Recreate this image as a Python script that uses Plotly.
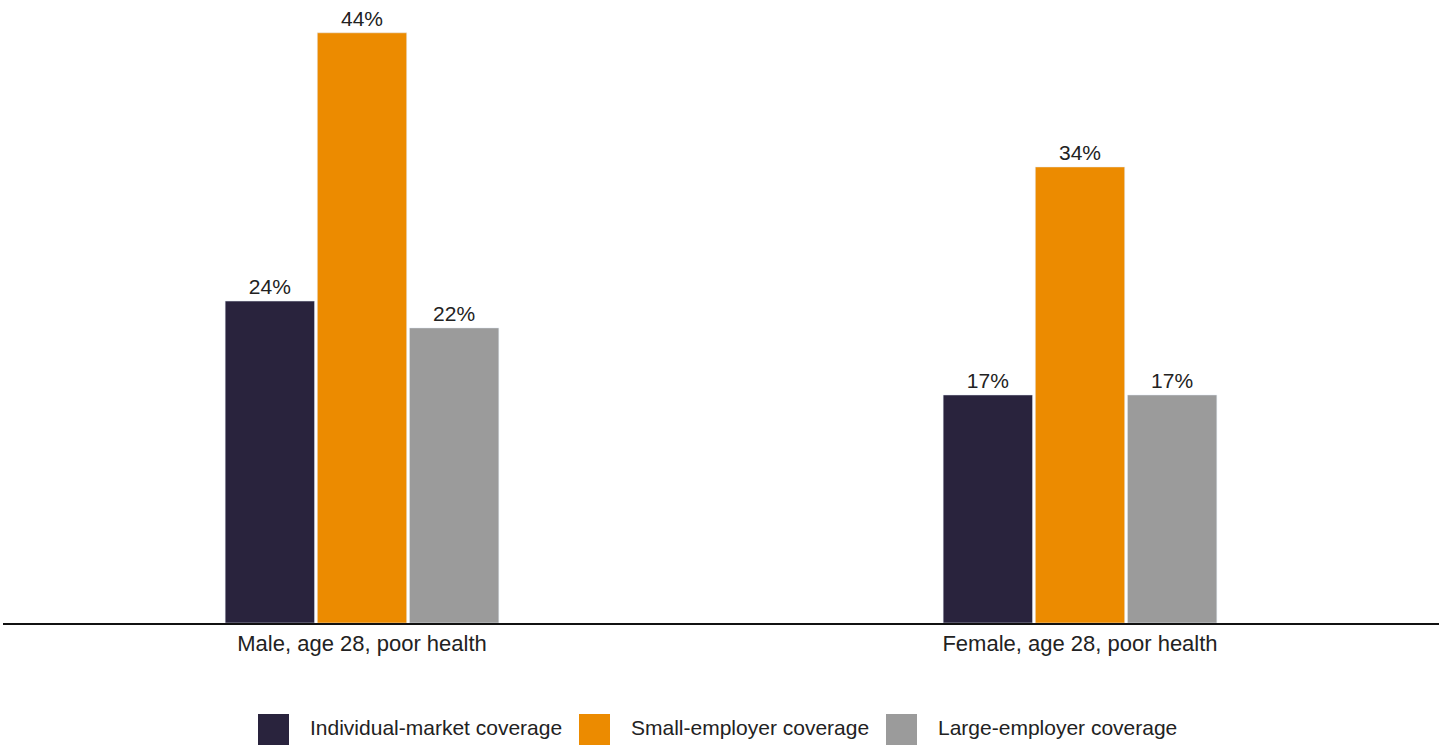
import plotly.graph_objects as go

# Coverage share by scenario and coverage type
categories = ["Male, age 28, poor health", "Female, age 28, poor health"]
series_names = ["Individual-market coverage", "Small-employer coverage", "Large-employer coverage"]
individual = [24, 17]
small_employer = [44, 34]
large_employer = [22, 17]
colors = ["#29233d", "#ec8b00", "#9b9b9b"]

W, H = 1448, 745
ML, MR, MT, MB = 3, 9, 10, 122
plot_w = W - ML - MR
plot_h = H - MT - MB
FONT = "Liberation Sans, Arial, sans-serif"

fig = go.Figure()
for name, vals, col in zip(series_names, [individual, small_employer, large_employer], colors):
    fig.add_trace(go.Bar(
        x=categories, y=vals, name=name, marker_color=col,
        text=[f"{v}%" for v in vals], textposition="outside",
        textfont=dict(size=21, color="#222222", family=FONT),
        cliponaxis=False, showlegend=False,
    ))

# Custom legend below the axis: large swatches with labels
def px_to_paper_x(px):
    return (px - ML) / plot_w

def px_to_paper_y(py):
    return (H - MB - py) / plot_h

legend_swatch_x = [258, 579, 886]
sw = 31
for sx, col, name in zip(legend_swatch_x, colors, series_names):
    fig.add_shape(type="rect", xref="paper", yref="paper",
                  x0=px_to_paper_x(sx), x1=px_to_paper_x(sx + sw),
                  y0=px_to_paper_y(745), y1=px_to_paper_y(714),
                  fillcolor=col, line_width=0, layer="above")
    fig.add_annotation(xref="paper", yref="paper",
                       x=px_to_paper_x(sx + 50), y=px_to_paper_y(727),
                       text=name, showarrow=False, xanchor="left", yanchor="middle",
                       font=dict(size=21, color="#222222", family=FONT))

fig.update_layout(
    width=W, height=H,
    margin=dict(l=ML, r=MR, t=MT, b=MB),
    paper_bgcolor="white", plot_bgcolor="white",
    barmode="group", bargap=0.615, bargroupgap=0.03,
    font=dict(family=FONT, color="#222222"),
    showlegend=False,
    xaxis=dict(showline=True, linecolor="#111111", linewidth=2, ticks="",
               tickfont=dict(size=22, color="#222222"), showgrid=False),
    yaxis=dict(range=[0, 45.7], visible=False, showgrid=False, zeroline=False),
)

fig.write_html("out.html")
